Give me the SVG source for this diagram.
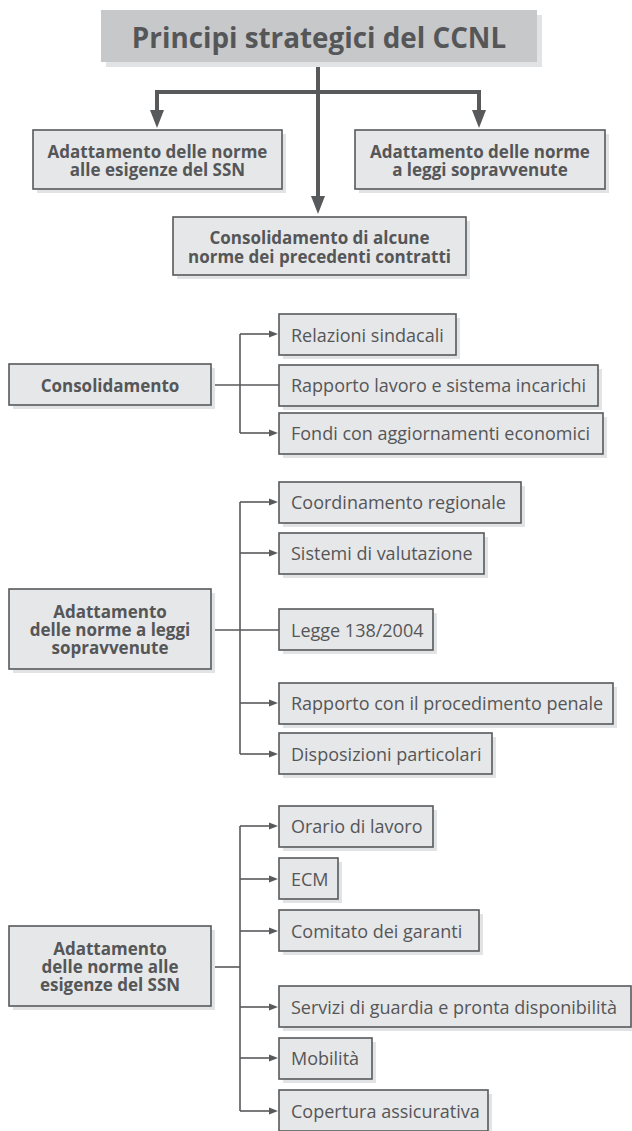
<svg xmlns="http://www.w3.org/2000/svg" width="632" height="1131" viewBox="0 0 632 1131">
<defs>
<style>
.bg{fill:#ffffff}
.shadow{fill:#e2e3e4}
.box{fill:#e6e7e8;stroke:#58595b;stroke-width:1.6}
.title{fill:#c7c8ca}
.tt{font-family:"Open Sans","Noto Sans",sans-serif;font-weight:bold;font-size:27.8px;fill:#555658;text-anchor:middle;dominant-baseline:central}
.hb{font-family:"Open Sans","Noto Sans",sans-serif;font-weight:bold;font-size:17px;fill:#555658;text-anchor:middle;dominant-baseline:central}
.ct{font-family:"Open Sans","Noto Sans",sans-serif;font-size:18px;fill:#555658;dominant-baseline:central}
.thick{fill:none;stroke:#58595b;stroke-width:4}
.thin{fill:none;stroke:#58595b;stroke-width:1.6}
</style>
<marker id="bigArrow" markerUnits="userSpaceOnUse" markerWidth="18" markerHeight="14" refX="4" refY="7" orient="auto">
<path d="M0,0 L18,7 L0,14 z" fill="#58595b"/>
</marker>
<marker id="smallArrow" markerUnits="userSpaceOnUse" markerWidth="9" markerHeight="8" refX="2" refY="4" orient="auto">
<path d="M0,0.5 L9,4 L0,7.5 z" fill="#58595b"/>
</marker>
</defs>
<rect class="bg" x="0" y="0" width="632" height="1131"/>

<g id="connectors">
<path class="thick" d="M318,62 V92"/>
<path class="thick" d="M157,92 H479"/>
<path class="thick" d="M157,90 V114" marker-end="url(#bigArrow)"/>
<path class="thick" d="M479,90 V114" marker-end="url(#bigArrow)"/>
<path class="thick" d="M318,92 V200" marker-end="url(#bigArrow)"/>

<path class="thin" d="M211,385 H279"/>
<path class="thin" d="M240,334 V433"/>
<path class="thin" d="M240,334 H271" marker-end="url(#smallArrow)"/>
<path class="thin" d="M240,433 H271" marker-end="url(#smallArrow)"/>

<path class="thin" d="M211,630 H279"/>
<path class="thin" d="M240,502 V754"/>
<path class="thin" d="M240,502 H271" marker-end="url(#smallArrow)"/>
<path class="thin" d="M240,553 H271" marker-end="url(#smallArrow)"/>
<path class="thin" d="M240,703 H271" marker-end="url(#smallArrow)"/>
<path class="thin" d="M240,754 H271" marker-end="url(#smallArrow)"/>

<path class="thin" d="M211,967 H240"/>
<path class="thin" d="M240,826 V1111"/>
<path class="thin" d="M240,826 H271" marker-end="url(#smallArrow)"/>
<path class="thin" d="M240,879 H271" marker-end="url(#smallArrow)"/>
<path class="thin" d="M240,931 H271" marker-end="url(#smallArrow)"/>
<path class="thin" d="M240,1007 H271" marker-end="url(#smallArrow)"/>
<path class="thin" d="M240,1058 H271" marker-end="url(#smallArrow)"/>
<path class="thin" d="M240,1111 H271" marker-end="url(#smallArrow)"/>
</g>

<g id="title">
<rect class="shadow" x="106" y="15" width="436" height="52"/>
<rect class="title" x="101" y="10" width="436" height="52"/>
<text class="tt" x="319" y="37">Principi strategici del CCNL</text>
</g>

<g id="top-left">
<rect class="shadow" x="37" y="134" width="249" height="59"/>
<rect class="box" x="33" y="130" width="249" height="59"/>
<text class="hb" x="157.5" y="151">Adattamento delle norme</text>
<text class="hb" x="157.5" y="169">alle esigenze del SSN</text>
</g>

<g id="top-right">
<rect class="shadow" x="359" y="134" width="250" height="59"/>
<rect class="box" x="355" y="130" width="250" height="59"/>
<text class="hb" x="480" y="151">Adattamento delle norme</text>
<text class="hb" x="480" y="169">a leggi sopravvenute</text>
</g>

<g id="top-center">
<rect class="shadow" x="177" y="221" width="293" height="58"/>
<rect class="box" x="173" y="217" width="293" height="58"/>
<text class="hb" x="319.5" y="237">Consolidamento di alcune</text>
<text class="hb" x="319.5" y="256">norme dei precedenti contratti</text>
</g>

<g id="consolidamento">
<rect class="shadow" x="13" y="368" width="202" height="41"/>
<rect class="box" x="9" y="364" width="202" height="41"/>
<text class="hb" x="110" y="385">Consolidamento</text>
</g>
<g id="relazioni">
<rect class="shadow" x="283" y="318" width="177" height="41"/>
<rect class="box" x="279" y="314" width="177" height="41"/>
<text class="ct" x="291" y="335">Relazioni sindacali</text>
</g>
<g id="rapporto-lavoro">
<rect class="shadow" x="283" y="369" width="319" height="41"/>
<rect class="box" x="279" y="365" width="319" height="41"/>
<text class="ct" x="291" y="385">Rapporto lavoro e sistema incarichi</text>
</g>
<g id="fondi">
<rect class="shadow" x="283" y="417" width="324" height="41"/>
<rect class="box" x="279" y="413" width="324" height="41"/>
<text class="ct" x="291" y="433">Fondi con aggiornamenti economici</text>
</g>

<g id="adattamento-leggi">
<rect class="shadow" x="13" y="593" width="202" height="80"/>
<rect class="box" x="9" y="589" width="202" height="80"/>
<text class="hb" x="110" y="611">Adattamento</text>
<text class="hb" x="110" y="629">delle norme a leggi</text>
<text class="hb" x="110" y="647">sopravvenute</text>
</g>
<g id="coordinamento">
<rect class="shadow" x="283" y="486" width="242" height="41"/>
<rect class="box" x="279" y="482" width="242" height="41"/>
<text class="ct" x="291" y="502">Coordinamento regionale</text>
</g>
<g id="sistemi">
<rect class="shadow" x="283" y="537" width="205" height="41"/>
<rect class="box" x="279" y="533" width="205" height="41"/>
<text class="ct" x="291" y="553">Sistemi di valutazione</text>
</g>
<g id="legge">
<rect class="shadow" x="283" y="613" width="154" height="41"/>
<rect class="box" x="279" y="609" width="154" height="41"/>
<text class="ct" x="291" y="630">Legge 138/2004</text>
</g>
<g id="procedimento">
<rect class="shadow" x="283" y="687" width="334" height="41"/>
<rect class="box" x="279" y="683" width="334" height="41"/>
<text class="ct" x="291" y="703">Rapporto con il procedimento penale</text>
</g>
<g id="disposizioni">
<rect class="shadow" x="283" y="737" width="213" height="41"/>
<rect class="box" x="279" y="733" width="213" height="41"/>
<text class="ct" x="291" y="754">Disposizioni particolari</text>
</g>

<g id="adattamento-ssn">
<rect class="shadow" x="13" y="930" width="202" height="80"/>
<rect class="box" x="9" y="926" width="202" height="80"/>
<text class="hb" x="110" y="948">Adattamento</text>
<text class="hb" x="110" y="966">delle norme alle</text>
<text class="hb" x="110" y="984">esigenze del SSN</text>
</g>
<g id="orario">
<rect class="shadow" x="283" y="810" width="154" height="41"/>
<rect class="box" x="279" y="806" width="154" height="41"/>
<text class="ct" x="291" y="826">Orario di lavoro</text>
</g>
<g id="ecm">
<rect class="shadow" x="283" y="862" width="59" height="41"/>
<rect class="box" x="279" y="858" width="59" height="41"/>
<text class="ct" x="291" y="879">ECM</text>
</g>
<g id="comitato">
<rect class="shadow" x="283" y="914" width="200" height="41"/>
<rect class="box" x="279" y="910" width="200" height="41"/>
<text class="ct" x="291" y="931">Comitato dei garanti</text>
</g>
<g id="servizi">
<rect class="shadow" x="283" y="990" width="352" height="41"/>
<rect class="box" x="279" y="986" width="352" height="41"/>
<text class="ct" x="291" y="1007">Servizi di guardia e pronta disponibilità</text>
</g>
<g id="mobilita">
<rect class="shadow" x="283" y="1042" width="93" height="41"/>
<rect class="box" x="279" y="1038" width="93" height="41"/>
<text class="ct" x="291" y="1058">Mobilità</text>
</g>
<g id="copertura">
<rect class="shadow" x="283" y="1094" width="209" height="41"/>
<rect class="box" x="279" y="1090" width="209" height="41"/>
<text class="ct" x="291" y="1111">Copertura assicurativa</text>
</g>
</svg>
